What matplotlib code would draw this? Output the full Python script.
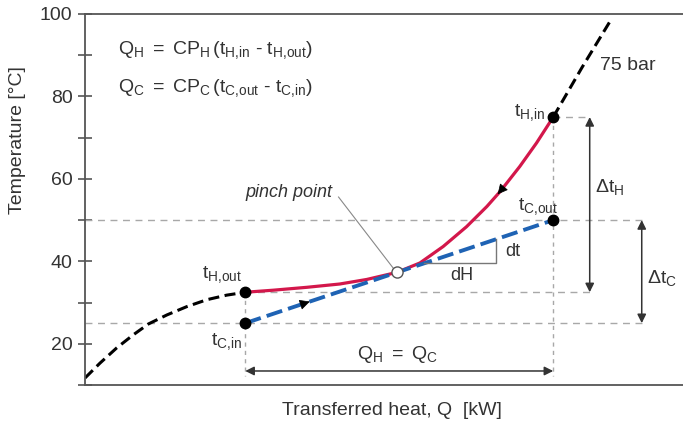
import numpy as np
import matplotlib.pyplot as plt
from matplotlib.ticker import MultipleLocator

plt.rcParams['font.family'] = ['Liberation Sans', 'DejaVu Sans']
plt.rcParams['mathtext.fontset'] = 'custom'
plt.rcParams['mathtext.rm'] = 'Liberation Sans'
plt.rcParams['mathtext.it'] = 'Liberation Sans:italic'
plt.rcParams['mathtext.default'] = 'regular'

# 75 bar isobar, split into the part below the exchanger, the hot stream and the part above
q_lower = [0.0, 2.5, 5.3, 8.1, 10.6, 13.7, 17.0, 20.4, 23.7, 26.8]
t_lower = [11.7, 15.3, 19.0, 22.2, 24.8, 27.0, 29.0, 30.7, 31.8, 32.5]
q_hot = [26.8, 31.5, 37.1, 42.6, 47.1, 52.1, 56.0, 59.9, 63.8, 67.2, 69.4, 72.7, 75.5, 78.3]
t_hot = [32.5, 33.0, 33.7, 34.5, 35.6, 37.3, 39.6, 43.6, 48.4, 53.3, 56.9, 63.0, 68.7, 75.0]
q_upper = [78.3, 83.1, 88.0]
t_upper = [75.0, 87.0, 98.7]

# cold stream (straight line, constant CP)
q_cold = [26.8, 78.3]
t_cold = [25.0, 50.0]

q_pinch, t_pinch = 52.1, 37.3
q_in, q_out = 26.8, 78.3
t_h_in, t_h_out = 75.0, 32.5
t_c_in, t_c_out = 25.0, 50.0

txt = '#333333'
grey = '#a8a8a8'
red = '#d3174b'
blue = '#1f63b4'

fig = plt.figure(figsize=(6.83, 4.25), dpi=100)
ax = fig.add_axes([85 / 683, 40 / 425, 598 / 683, 371 / 425])
ax.set_xlim(0, 100)
ax.set_ylim(10, 100)

# helper lines
ax.plot([0, 93.1], [t_c_out, t_c_out], color=grey, lw=1, dashes=(5, 4))
ax.plot([0, 93.1], [t_c_in, t_c_in], color=grey, lw=1, dashes=(5, 4))
ax.plot([q_in, 84.4], [t_h_out, t_h_out], color=grey, lw=1, dashes=(5, 4))
ax.plot([q_out, 84.4], [t_h_in, t_h_in], color=grey, lw=1, dashes=(5, 4))
ax.plot([q_in, q_in], [t_h_out, 12.3], color=grey, lw=1, dashes=(3, 3))
ax.plot([q_out, q_out], [t_h_in, 12.3], color=grey, lw=1, dashes=(3, 3))

# isobar and streams
ax.plot(q_lower, t_lower, color='black', lw=2.2, dashes=(3.6, 1.8))
ax.plot(q_upper, t_upper, color='black', lw=2.2, dashes=(3.6, 1.8))
ax.plot(q_hot, t_hot, color=red, lw=2.3, solid_joinstyle='round')
ax.plot(q_cold, t_cold, color=blue, lw=2.8, dashes=(4.2, 1.6))

# flow direction arrowheads
def flow_arrow(qs, ts, q_tip, towards_low):
    t_tip = np.interp(q_tip, qs, ts)
    dq = 0.8 if towards_low else -0.8
    t_tail = np.interp(q_tip + dq, qs, ts)
    ax.annotate('', xy=(q_tip, t_tip), xytext=(q_tip + dq, t_tail),
                arrowprops=dict(arrowstyle='-|>', color='black', lw=0.5,
                                mutation_scale=16, shrinkA=0, shrinkB=0))

flow_arrow(q_hot, t_hot, 69.0, True)
flow_arrow(q_cold, t_cold, 37.6, False)

# slope triangle
q_tri = q_in + (39.5 - t_c_in) / (t_c_out - t_c_in) * (q_out - q_in)
t_top = np.interp(68.8, q_cold, t_cold)
ax.plot([q_tri, 68.8, 68.8], [39.5, 39.5, t_top], color='#777777', lw=1)
ax.text(70.3, 42.4, 'dt', color=txt, fontsize=13, va='center')
ax.text(63.0, 36.6, 'dH', color=txt, fontsize=13, va='center', ha='center')

# end points
ax.plot([q_in, q_in, q_out, q_out], [t_h_out, t_c_in, t_h_in, t_c_out], 'o',
        color='black', ms=7.5, zorder=5)
ax.plot([q_pinch], [t_pinch], 'o', mfc='white', mec='#555555', mew=1, ms=8, zorder=5)

# pinch label with leader
ax.plot([42.4, q_pinch], [55.6, t_pinch], color='#888888', lw=0.8, zorder=1)
ax.text(41.3, 56.6, 'pinch point', style='italic', color=txt, fontsize=13,
        ha='right', va='center')

# double arrows
arrow_kw = dict(arrowstyle='<|-|>', color='#333333', lw=1.1,
                mutation_scale=13, shrinkA=0, shrinkB=0)
ax.annotate('', xy=(84.4, t_h_in), xytext=(84.4, t_h_out), arrowprops=arrow_kw)
ax.annotate('', xy=(93.1, t_c_out), xytext=(93.1, t_c_in), arrowprops=arrow_kw)
ax.annotate('', xy=(q_in, 13.4), xytext=(q_out, 13.4), arrowprops=arrow_kw)

fs = 14
ax.text(85.3, 58.1, r'$\Delta t_H$', color=txt, fontsize=fs, va='center')
ax.text(93.9, 35.9, r'$\Delta t_C$', color=txt, fontsize=fs, va='center')
ax.text(52.3, 17.3, r'$Q_H\ =\ Q_C$', color=txt, fontsize=fs, va='center', ha='center')

# point labels
ax.text(26.3, 36.8, r'$t_{H{,}out}$', color=txt, fontsize=fs, ha='right', va='center')
ax.text(26.3, 20.6, r'$t_{C{,}in}$', color=txt, fontsize=fs, ha='right', va='center')
ax.text(77.0, 76.0, r'$t_{H{,}in}$', color=txt, fontsize=fs, ha='right', va='center')
ax.text(72.4, 53.3, r'$t_{C{,}out}$', color=txt, fontsize=fs, ha='left', va='center')
ax.text(86.1, 87.6, '75 bar', color=txt, fontsize=fs, va='center')

# balance equations
ax.text(5.5, 91.3, r'$Q_H\ =\ CP_H\,(t_{H{,}in}\ \text{-}\ t_{H{,}out})$', color=txt,
        fontsize=fs, va='center')
ax.text(5.5, 82.1, r'$Q_C\ =\ CP_C\,(t_{C{,}out}\ \text{-}\ t_{C{,}in})$', color=txt,
        fontsize=fs, va='center')

# axes styling
for side in ['left', 'top', 'bottom']:
    ax.spines[side].set_color('#555555')
    ax.spines[side].set_linewidth(1.3)
ax.spines['right'].set_visible(False)
ax.set_xticks([])
ax.yaxis.set_major_locator(MultipleLocator(20))
ax.yaxis.set_minor_locator(MultipleLocator(10))
ax.set_yticks([20, 40, 60, 80, 100])
ax.tick_params(axis='y', which='both', direction='inout', length=10, width=1.2,
               color='#555555', labelcolor=txt, labelsize=fs, pad=4)
ax.set_ylabel('Temperature [°C]', color=txt, fontsize=fs)
ax.yaxis.set_label_coords(-0.099, 0.66)
ax.set_xlabel('Transferred heat, Q  [kW]', color=txt, fontsize=fs)
ax.xaxis.set_label_coords(0.513, -0.045)

fig.savefig('out.png', dpi=100)
